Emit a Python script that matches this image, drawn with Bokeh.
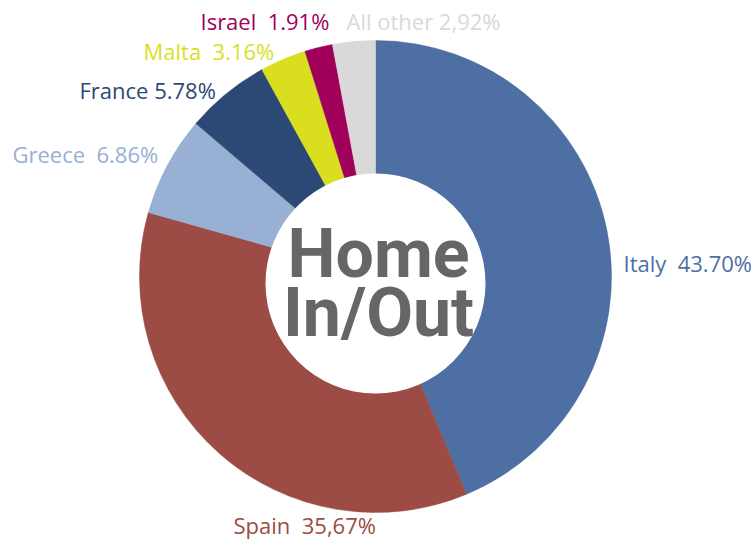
import math
from bokeh.plotting import figure
from bokeh.models import ColumnDataSource, Range1d
from bokeh.core.properties import value
from bokeh.embed import file_html
from bokeh.resources import INLINE

# ---- data ----
countries = ["Italy", "Spain", "Greece", "France", "Malta", "Israel", "All other"]
shares = [43.70, 35.67, 6.86, 5.78, 3.16, 1.91, 2.92]
share_labels = ["43.70%", "35,67%", "6.86%", "5.78%", "3.16%", "1.91%", "2,92%"]
center_title = ["Home", "In/Out"]

# ---- styles / layout ----
colors = ["#4E6FA3", "#9C4B45", "#97B0D3", "#2C4875", "#D9DF1F", "#A0005A", "#D9D9D9"]
label_gap = [" \u00a0", " \u00a0", " \u00a0", " ", " \u00a0", " \u00a0", " "]
label_sx = [623, 233, 12, 79, 143, 200, 346]     # screen x (left edge)
label_sy = [262, 524, 153, 89, 50, 20, 20]       # screen y (anchor)

W, H = 751, 539
cx, cy, R = 375, H - 276, 236
hole_cx, hole_cy, hole_r = 375, H - 283, 110

total = sum(shares)
starts, ends = [], []
a = math.pi / 2
for s in shares:
    starts.append(a)
    a -= 2 * math.pi * s / total
    ends.append(a)

src = ColumnDataSource(dict(
    country=countries, share=shares, start=starts, end=ends, color=colors,
    label=[c + g + t for c, g, t in zip(countries, label_gap, share_labels)],
    lx=label_sx, ly=[H - y for y in label_sy],
))

p = figure(width=W, height=H, output_backend="svg", toolbar_location=None,
           x_range=Range1d(0, W), y_range=Range1d(0, H), min_border=0)
p.axis.visible = False
p.grid.visible = False
p.outline_line_color = None
p.background_fill_color = "white"
p.border_fill_color = "white"

p.wedge(x=cx, y=cy, radius=R, start_angle="start", end_angle="end",
        direction="clock", fill_color="color", line_color="color", line_width=0.5,
        source=src)
p.circle(x=[hole_cx], y=[hole_cy], radius=hole_r, fill_color="white", line_color=None)

p.text(x=[378, 378], y=[H - 253, H - 312], text=center_title,
       text_font=value("Roboto"), text_font_style="bold", text_font_size="68px",
       text_color="#666666", text_align="center", text_baseline="alphabetic")

p.text(x="lx", y="ly", text="label", text_color="color", source=src,
       text_font=value("Open Sans"), text_font_size="22px",
       text_align="left", text_baseline="alphabetic")

open("out.html", "w").write(file_html(p, INLINE))
